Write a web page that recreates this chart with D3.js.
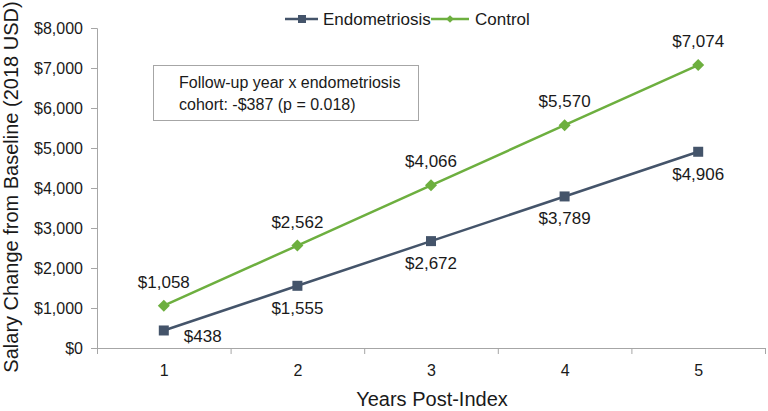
<!DOCTYPE html>
<html>
<head>
<meta charset="utf-8">
<script src="https://cdn.jsdelivr.net/npm/d3@7"></script>
<style>
  html, body { margin: 0; padding: 0; background: #fff; }
  svg { display: block; font-family: "Liberation Sans", Arial, sans-serif; }
</style>
</head>
<body>
<svg id="chart" width="768" height="411"></svg>
<script>
const years = [1, 2, 3, 4, 5];
const endometriosis = [438, 1555, 2672, 3789, 4906];
const control = [1058, 2562, 4066, 5570, 7074];
const yTicks = [0, 1000, 2000, 3000, 4000, 5000, 6000, 7000, 8000];
const seriesNames = ["Endometriosis", "Control"];
const annotationLines = ["Follow-up year x endometriosis", "cohort: -$387 (p = 0.018)"];
const xTitle = "Years Post-Index";
const yTitle = "Salary Change from Baseline (2018 USD)";

const colEndo = "#44546a";
const colCtrl = "#6daf3f";
const axisCol = "#a6a6a6";
const textCol = "#1a1a1a";

const svg = d3.select("#chart");
const x = d3.scaleLinear().domain([0.5, 5.5]).range([97, 765]);
const y = d3.scaleLinear().domain([0, 8000]).range([348, 28]);
const fmt = d3.format("$,");

// Y axis
const yAxis = svg.append("g").attr("transform", "translate(97,0)")
  .call(d3.axisLeft(y).tickValues(yTicks).tickFormat(fmt).tickSize(6).tickPadding(8));
yAxis.selectAll("path, line").attr("stroke", axisCol);
yAxis.selectAll("text").attr("font-size", 16).attr("fill", textCol).attr("font-family", "Liberation Sans, Arial, sans-serif");

// X axis: boundary ticks
const xb = svg.append("g").attr("transform", "translate(0,348)")
  .call(d3.axisBottom(x).tickValues([0.5, 1.5, 2.5, 3.5, 4.5, 5.5]).tickFormat("").tickSize(6).tickSizeOuter(0));
xb.selectAll("path, line").attr("stroke", axisCol);
// X axis: labels
const xl = svg.append("g").attr("transform", "translate(0,348)")
  .call(d3.axisBottom(x).tickValues(years).tickFormat(d3.format("d")).tickSize(0).tickPadding(17));
xl.select(".domain").remove();
xl.selectAll("text").attr("font-size", 16).attr("fill", textCol).attr("font-family", "Liberation Sans, Arial, sans-serif");

// Axis titles
svg.append("text").attr("x", 432).attr("y", 406).attr("text-anchor", "middle")
  .attr("font-size", 20).attr("fill", textCol).text(xTitle);
svg.append("text").attr("transform", "translate(18,187) rotate(-90)").attr("text-anchor", "middle")
  .attr("font-size", 20).attr("fill", textCol).text(yTitle);

// Lines
const line = d3.line().x((d, i) => x(years[i])).y(d => y(d));
svg.append("path").datum(control).attr("d", line).attr("fill", "none")
  .attr("stroke", colCtrl).attr("stroke-width", 2.5);
svg.append("path").datum(endometriosis).attr("d", line).attr("fill", "none")
  .attr("stroke", colEndo).attr("stroke-width", 2.5);

// Markers
const diamond = d3.symbol().type(d3.symbolSquare).size(72);
svg.selectAll(".mc").data(control).enter().append("path")
  .attr("d", diamond)
  .attr("transform", (d, i) => `translate(${x(years[i])},${y(d)}) rotate(45)`)
  .attr("fill", colCtrl);
svg.selectAll(".me").data(endometriosis).enter().append("rect")
  .attr("x", (d, i) => x(years[i]) - 5).attr("y", d => y(d) - 5)
  .attr("width", 10).attr("height", 10).attr("fill", colEndo);

// Data labels
svg.selectAll(".lc").data(control).enter().append("text")
  .attr("x", (d, i) => x(years[i])).attr("y", d => y(d) - 18)
  .attr("text-anchor", "middle").attr("font-size", 17).attr("fill", textCol)
  .text(d => fmt(d));
svg.selectAll(".le").data(endometriosis).enter().append("text")
  .attr("x", (d, i) => i === 0 ? x(years[i]) + 20 : x(years[i]))
  .attr("y", (d, i) => i === 0 ? y(d) + 12 : y(d) + 28)
  .attr("text-anchor", (d, i) => i === 0 ? "start" : "middle")
  .attr("font-size", 17).attr("fill", textCol)
  .text(d => fmt(d));

// Legend
const lg = svg.append("g");
lg.append("line").attr("x1", 285).attr("x2", 318).attr("y1", 19).attr("y2", 19)
  .attr("stroke", colEndo).attr("stroke-width", 2.5);
lg.append("rect").attr("x", 298).attr("y", 15).attr("width", 8).attr("height", 8).attr("fill", colEndo);
lg.append("text").attr("x", 323).attr("y", 25).attr("font-size", 17).attr("fill", textCol).text(seriesNames[0]);
lg.append("line").attr("x1", 431).attr("x2", 469).attr("y1", 19).attr("y2", 19)
  .attr("stroke", colCtrl).attr("stroke-width", 2.5);
lg.append("path").attr("d", d3.symbol().type(d3.symbolSquare).size(30))
  .attr("transform", "translate(450,19) rotate(45)").attr("fill", colCtrl);
lg.append("text").attr("x", 475).attr("y", 25).attr("font-size", 17).attr("fill", textCol).text(seriesNames[1]);

// Annotation box
const ab = svg.append("g");
ab.append("rect").attr("x", 153.5).attr("y", 65.5).attr("width", 265).attr("height", 55)
  .attr("fill", "#fff").attr("stroke", "#a6a6a6").attr("stroke-width", 1);
ab.selectAll("text").data(annotationLines).enter().append("text")
  .attr("x", 179).attr("y", (d, i) => 88 + i * 22)
  .attr("font-size", 16).attr("fill", textCol).text(d => d);
</script>
</body>
</html>
